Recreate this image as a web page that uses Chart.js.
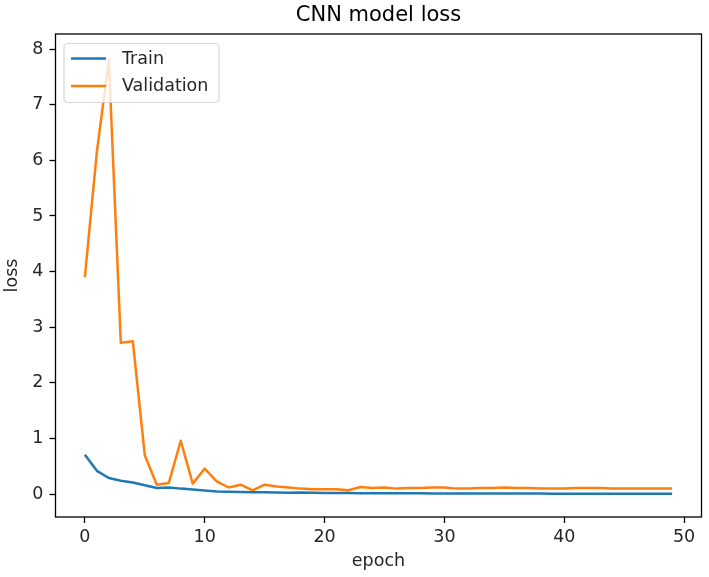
<!DOCTYPE html>
<html>
<head>
<meta charset="utf-8">
<script src="https://cdn.jsdelivr.net/npm/chart.js@4/dist/chart.umd.min.js"></script>
<style>
  html, body { margin: 0; padding: 0; background: #fff; }
  #wrap { width: 709px; height: 577px; position: relative; }
</style>
</head>
<body>
<div id="wrap"><canvas id="loss-chart"></canvas></div>
<script>
// epochs 0..49
var epochs = [0, 1, 2, 3, 4, 5, 6, 7, 8, 9, 10, 11, 12, 13, 14, 15, 16, 17, 18, 19,
  20, 21, 22, 23, 24, 25, 26, 27, 28, 29, 30, 31, 32, 33, 34, 35, 36, 37, 38, 39,
  40, 41, 42, 43, 44, 45, 46, 47, 48, 49];

var trainLoss = [0.71, 0.42, 0.29, 0.24, 0.21, 0.16, 0.11, 0.12, 0.10, 0.085,
  0.065, 0.05, 0.045, 0.04, 0.035, 0.035, 0.03, 0.025, 0.03, 0.025,
  0.02, 0.02, 0.02, 0.018, 0.018, 0.017, 0.016, 0.015, 0.015, 0.014,
  0.014, 0.013, 0.013, 0.012, 0.012, 0.012, 0.011, 0.011, 0.011, 0.01,
  0.01, 0.01, 0.01, 0.01, 0.009, 0.009, 0.009, 0.009, 0.009, 0.009];

var valLoss = [3.9, 6.15, 7.8, 2.72, 2.75, 0.70, 0.17, 0.20, 0.96, 0.19,
  0.46, 0.23, 0.12, 0.17, 0.07, 0.17, 0.14, 0.12, 0.10, 0.09,
  0.09, 0.09, 0.07, 0.13, 0.11, 0.12, 0.10, 0.11, 0.11, 0.12,
  0.12, 0.10, 0.10, 0.11, 0.11, 0.12, 0.11, 0.11, 0.10, 0.10,
  0.10, 0.11, 0.11, 0.11, 0.10, 0.10, 0.10, 0.10, 0.10, 0.10];

var xTicks = [0, 10, 20, 30, 40, 50];
var yTicks = [0, 1, 2, 3, 4, 5, 6, 7, 8];

var FONT = "'DejaVu Sans', sans-serif";

function toPoints(ys) {
  return epochs.map(function (e, i) { return { x: e, y: ys[i] }; });
}

// axes box (spines) + matplotlib style legend inside the plot
var framePlugin = {
  id: "frame",
  afterDatasetsDraw: function (chart) {
    var ctx = chart.ctx;
    var a = chart.chartArea;
    ctx.save();
    ctx.strokeStyle = "#000";
    ctx.lineWidth = 1.3;
    ctx.strokeRect(a.left, a.top, a.right - a.left, a.bottom - a.top);

    // legend
    var x0 = a.left + 8.5, y0 = a.top + 9.5, w = 155, h = 59;
    ctx.beginPath();
    ctx.roundRect(x0, y0, w, h, 4);
    ctx.fillStyle = "rgba(255,255,255,0.8)";
    ctx.fill();
    ctx.strokeStyle = "rgba(204,204,204,0.8)";
    ctx.lineWidth = 1.2;
    ctx.stroke();

    ctx.font = "17.5px " + FONT;
    ctx.textBaseline = "middle";
    ctx.textAlign = "left";
    chart.data.datasets.forEach(function (ds, i) {
      var ly = y0 + 15 + i * 27.4;
      ctx.beginPath();
      ctx.moveTo(x0 + 7, ly);
      ctx.lineTo(x0 + 42, ly);
      ctx.strokeStyle = ds.borderColor;
      ctx.lineWidth = 2.5;
      ctx.stroke();
      ctx.fillStyle = "#262626";
      ctx.fillText(ds.label, x0 + 58, ly + 1);
    });
    ctx.restore();
  }
};

var ctx = document.getElementById("loss-chart").getContext("2d");

var chart = new Chart(ctx, {
  type: "line",
  data: {
    datasets: [
      {
        label: "Train",
        data: toPoints(trainLoss),
        borderColor: "#1f77b4",
        borderWidth: 2.5,
        pointRadius: 0,
        tension: 0,
        borderJoinStyle: "round",
        fill: false,
      },
      {
        label: "Validation",
        data: toPoints(valLoss),
        borderColor: "#ff7f0e",
        borderWidth: 2.5,
        pointRadius: 0,
        tension: 0,
        borderJoinStyle: "round",
        fill: false,
      },
    ],
  },
  options: {
    responsive: true,
    maintainAspectRatio: false,
    animation: false,
    layout: { padding: { left: 0, right: 7.5, top: 0, bottom: 0 } },
    plugins: {
      legend: { display: false },
      tooltip: { enabled: false },
      title: {
        display: true,
        fullSize: false,
        text: "CNN model loss",
        color: "#000",
        font: { family: FONT, size: 21, weight: "normal", lineHeight: 1.2 },
        padding: { top: 2.5, bottom: 6.3 },
      },
    },
    scales: {
      x: {
        type: "linear",
        min: -2.45,
        max: 51.45,
        afterBuildTicks: function (scale) {
          scale.ticks = xTicks.map(function (v) { return { value: v }; });
        },
        afterFit: function (scale) { scale.height = 60; },
        border: { display: false },
        grid: {
          display: true,
          drawOnChartArea: false,
          drawTicks: true,
          tickLength: 6,
          tickWidth: 1.3,
          tickColor: "#000",
        },
        ticks: {
          color: "#262626",
          padding: 4,
          maxRotation: 0,
          font: { family: FONT, size: 17.5 },
        },
        title: {
          display: true,
          text: "epoch",
          color: "#262626",
          font: { family: FONT, size: 17.5, lineHeight: 1.2 },
          padding: { top: 0, bottom: 5.5 },
        },
      },
      y: {
        type: "linear",
        min: -0.41,
        max: 8.27,
        afterBuildTicks: function (scale) {
          scale.ticks = yTicks.map(function (v) { return { value: v }; });
        },
        afterFit: function (scale) { scale.width = 55.5; },
        border: { display: false },
        grid: {
          display: true,
          drawOnChartArea: false,
          drawTicks: true,
          tickLength: 6,
          tickWidth: 1.3,
          tickColor: "#000",
        },
        ticks: {
          color: "#262626",
          padding: 6,
          font: { family: FONT, size: 17.5 },
        },
        title: {
          display: true,
          text: "loss",
          color: "#262626",
          font: { family: FONT, size: 17.5, lineHeight: 1.2 },
          padding: { top: 2, bottom: 0 },
        },
      },
    },
  },
  plugins: [framePlugin],
});
</script>
</body>
</html>
